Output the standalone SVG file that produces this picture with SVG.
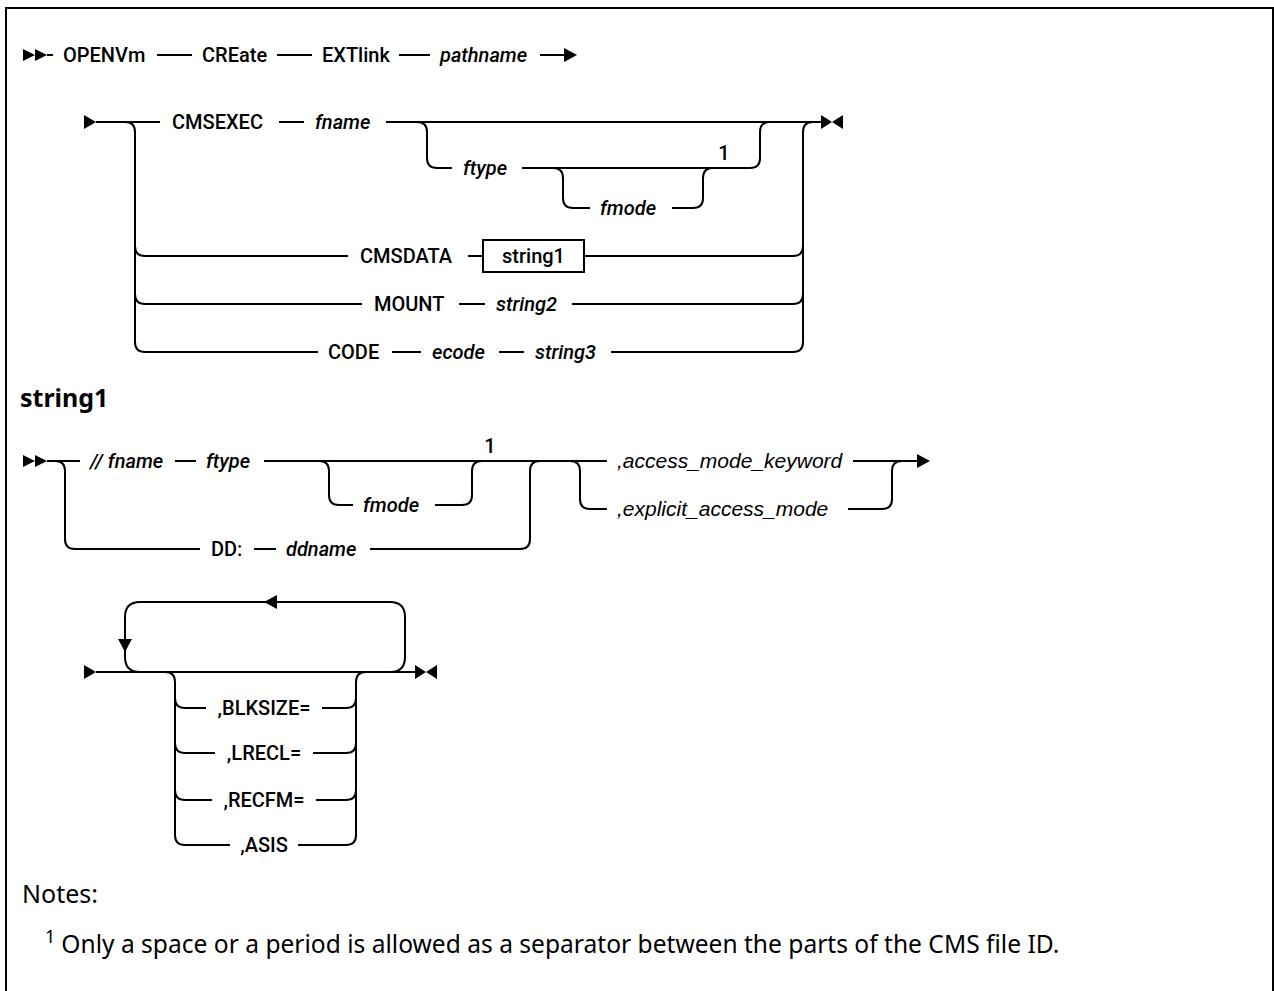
<svg xmlns="http://www.w3.org/2000/svg" xmlns:xlink="http://www.w3.org/1999/xlink" width="1274" height="991" viewBox="0 0 1274 991">
<style>
.ln{fill:none;stroke:#000;stroke-width:2}
.k{font-family:Roboto,"Liberation Sans",sans-serif;font-size:20px;font-weight:500;fill:#000}
.i{font-style:italic}
.a{font-family:"Liberation Sans",Arial,sans-serif;font-style:italic;font-size:21px;fill:#000}
.h{font-family:"Noto Sans","Liberation Sans",sans-serif;font-weight:bold;font-size:25px;fill:#000}
.n{font-family:"Noto Sans","Liberation Sans",sans-serif;font-size:25px;fill:#000}
.m{text-anchor:middle}
.f{fill:#000}
</style>
<defs>
<path id="dbl" d="M0,-6 L12,0 L0,6 Z M12,-6 L24,0 L12,6 Z"/>
<path id="st" d="M0,-7 L12,0 L0,7 Z"/>
<path id="end" d="M0,-7 L11,0 L0,7 Z M22,-7 L11,0 L22,7 Z"/>
<path id="ar" d="M0,-7 L13,0 L0,7 Z"/>
</defs>
<rect width="1274" height="991" fill="#fff"/>
<path class="ln" d="M6,991 V8 H1273 V991"/>

<g id="connectors">
<!-- line 1 -->
<use href="#dbl" x="23" y="55" class="f"/>
<path class="ln" d="M47,55 H53 M157,55 H192 M277,55 H312 M399,55 H430 M540,55 H566"/>
<use href="#ar" x="564" y="55" class="f"/>
<!-- main block -->
<use href="#st" x="84" y="122" class="f"/>
<path class="ln" d="M96,122 H160 M279,122 H304 M386,122 H823"/>
<use href="#end" x="821" y="122" class="f"/>
<path class="ln" d="M125,122 Q135,122 135,132 V342 Q135,352 145,352 M135,246 Q135,256 145,256 M135,294 Q135,304 145,304"/>
<path class="ln" d="M145,256 H348 M468,256 H483 M584,256 H793 M145,304 H362 M459,304 H485 M572,304 H793 M145,352 H318 M392,352 H421 M499,352 H524 M611,352 H793"/>
<path class="ln" d="M793,352 Q803,352 803,342 V132 Q803,122 813,122 M793,256 Q803,256 803,246 M793,304 Q803,304 803,294"/>
<path class="ln" d="M417,122 Q427,122 427,132 V158 Q427,168 437,168 H452 M522,168 H750 Q760,168 760,158 V132 Q760,122 770,122"/>
<path class="ln" d="M553,168 Q563,168 563,178 V198 Q563,208 573,208 H590 M672,208 H693 Q703,208 703,198 V178 Q703,168 713,168"/>
<!-- string1 -->
<use href="#dbl" x="23" y="461" class="f"/>
<path class="ln" d="M47,461 H80 M175,461 H196 M264,461 H607"/>
<path class="ln" d="M55,461 Q65,461 65,471 V539 Q65,549 75,549 H200 M254,549 H276 M370,549 H520 Q530,549 530,539 V471 Q530,461 540,461"/>
<path class="ln" d="M319,461 Q329,461 329,471 V495 Q329,505 339,505 H353 M435,505 H462 Q472,505 472,495 V471 Q472,461 482,461"/>
<path class="ln" d="M853,461 H919"/>
<use href="#ar" x="917" y="461" class="f"/>
<path class="ln" d="M570,461 Q580,461 580,471 V499 Q580,509 590,509 H607 M848,509 H882 Q892,509 892,499 V471 Q892,461 902,461"/>
<!-- repeat -->
<use href="#st" x="84" y="672" class="f"/>
<path class="ln" d="M96,672 H416"/>
<use href="#end" x="415" y="672" class="f"/>
<path class="ln" d="M140,672 Q125,672 125,657 V617 Q125,602 140,602 H390 Q405,602 405,617 V657 Q405,672 390,672"/>
<path class="f" d="M264,602 L277,595 L277,609 Z M118,639 L132,639 L125,652 Z"/>
<path class="ln" d="M165,672 Q175,672 175,682 V835 Q175,845 185,845 M175,698 Q175,708 185,708 M175,743 Q175,753 185,753 M175,790 Q175,800 185,800"/>
<path class="ln" d="M346,845 Q356,845 356,835 V682 Q356,672 366,672 M346,708 Q356,708 356,698 M346,753 Q356,753 356,743 M346,800 Q356,800 356,790"/>
<path class="ln" d="M185,708 H206 M322,708 H346 M185,753 H215 M313,753 H346 M185,800 H212 M316,800 H346 M185,845 H230 M298,845 H346"/>
</g>

<g id="n-openvm"><text class="k" x="63" y="62">OPENVm</text></g>
<g id="n-create"><text class="k" x="202" y="62">CREate</text></g>
<g id="n-extlink"><text class="k" x="322" y="62">EXTlink</text></g>
<g id="n-pathname"><text class="k i" x="440" y="62">pathname</text></g>

<g id="n-cmsexec"><text class="k" x="172" y="129">CMSEXEC</text></g>
<g id="n-fname"><text class="k i" x="315" y="129">fname</text></g>
<g id="n-ftype"><text class="k i" x="463" y="175">ftype</text></g>
<g id="n-fmode"><text class="k i" x="600" y="215">fmode</text></g>
<g id="n-note1a"><text class="k m" x="724" y="160">1</text></g>
<g id="n-cmsdata"><text class="k" x="360" y="263">CMSDATA</text></g>
<g id="n-string1box"><rect class="ln" x="483" y="240" width="101" height="32"/><text class="k m" x="533.5" y="263">string1</text></g>
<g id="n-mount"><text class="k" x="374" y="311">MOUNT</text></g>
<g id="n-string2"><text class="k i" x="496" y="311">string2</text></g>
<g id="n-code"><text class="k" x="328" y="359">CODE</text></g>
<g id="n-ecode"><text class="k i" x="432" y="359">ecode</text></g>
<g id="n-string3"><text class="k i" x="535" y="359">string3</text></g>

<g id="n-heading"><text class="h" x="20" y="407">string1</text></g>
<g id="n-slfname"><text class="k i" x="90" y="468">// fname</text></g>
<g id="n-ftype2"><text class="k i" x="206" y="468">ftype</text></g>
<g id="n-fmode2"><text class="k i" x="363" y="512">fmode</text></g>
<g id="n-note1b"><text class="k m" x="490" y="453">1</text></g>
<g id="n-dd"><text class="k" x="211" y="556">DD:</text></g>
<g id="n-ddname"><text class="k i" x="286" y="556">ddname</text></g>
<g id="n-akw"><text class="a" x="617" y="468">,access_mode_keyword</text></g>
<g id="n-eam"><text class="a" x="617" y="516">,explicit_access_mode</text></g>

<g id="n-blksize"><text class="k m" x="264" y="715">,BLKSIZE=</text></g>
<g id="n-lrecl"><text class="k m" x="264" y="760">,LRECL=</text></g>
<g id="n-recfm"><text class="k m" x="264" y="807">,RECFM=</text></g>
<g id="n-asis"><text class="k m" x="264" y="852">,ASIS</text></g>

<g id="n-notes"><text class="n" x="22" y="903">Notes:</text>
<text class="n" x="45" y="953"><tspan font-size="18" dy="-10">1</tspan><tspan dx="6" dy="10" textLength="998" lengthAdjust="spacingAndGlyphs">Only a space or a period is allowed as a separator between the parts of the CMS file ID.</tspan></text></g>
</svg>
